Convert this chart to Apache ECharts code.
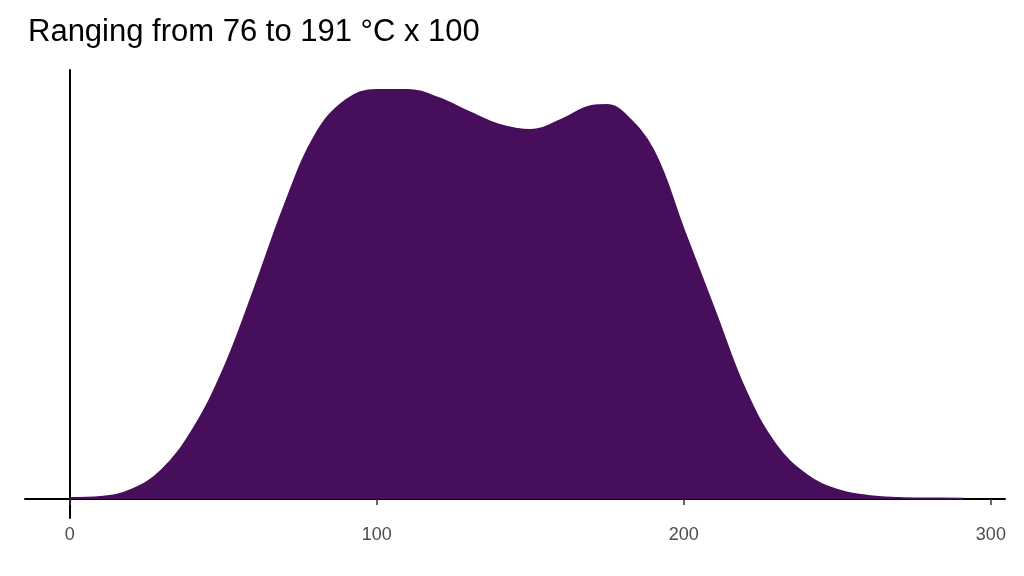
<!DOCTYPE html>
<html><head><meta charset="utf-8">
<script src="https://cdn.jsdelivr.net/npm/echarts@6/dist/echarts.min.js"></script>
<style>html,body{margin:0;padding:0;background:#fff}#c{width:1024px;height:576px}</style>
</head><body><div id="c"></div>
<script>
const title = "Ranging from 76 to 191 °C x 100";
const xs = [0,10,20,30,40,50,60,70,80,90,100,110,120,130,140,150,160,170,175,180,190,200,210,220,230,240,250,260,270,280,291];
const density = [1,2,9,29,69,129,209,294,364,399,409,409,401,387,374,369,379,393,394,387,349,269,189,109,54,24,9,3,1,0.5,0.3];
const xTicks = [0,100,200,300];
const chart = echarts.init(document.getElementById('c'));
chart.setOption({
  animation:false,
  title:{text:title,left:23,top:12,textStyle:{fontFamily:'Liberation Sans, Arial',fontSize:31,fontWeight:'normal',color:'#000'}},
  grid:{left:25,right:19,top:70,bottom:58},
  xAxis:{type:'value',min:-14.6,max:304.6,
    axisLine:{lineStyle:{color:'#000',width:2}},
    axisTick:{show:true,length:6,lineStyle:{color:'#333',width:1.5},customValues:xTicks},
    axisLabel:{customValues:xTicks,color:'#4d4d4d',fontSize:18,fontFamily:'Liberation Sans, Arial',margin:8},
    splitLine:{show:false}},
  yAxis:{type:'value',min:-19,max:429,axisLine:{show:true,lineStyle:{color:'#000',width:2}},
    axisTick:{show:false},axisLabel:{show:false},splitLine:{show:false}},
  series:[{type:'line',data:xs.map((x,i)=>[x,density[i]]),smooth:0.4,symbol:'none',
    lineStyle:{color:'#470E5C',width:2},areaStyle:{color:'#470E5C',opacity:1,origin:0}}]
});
</script></body></html>
